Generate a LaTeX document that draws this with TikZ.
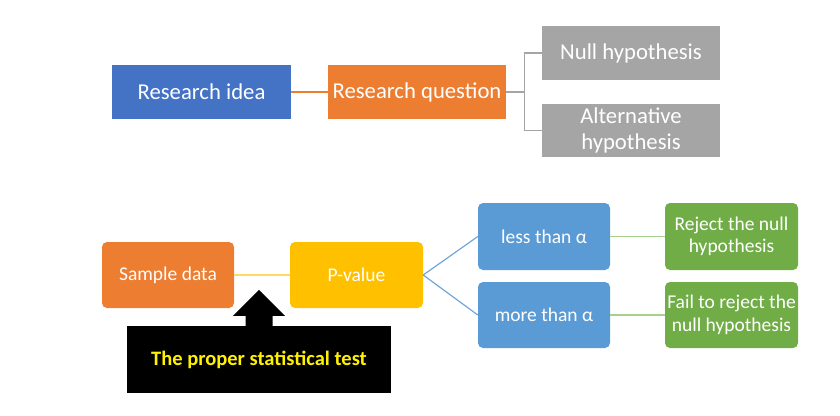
\documentclass[tikz,border=0pt]{standalone}
\usepackage{fontspec}
\setmainfont{Carlito}
\usetikzlibrary{calc}
\definecolor{cblue}{HTML}{4472C4}
\definecolor{corange}{HTML}{ED7D31}
\definecolor{cgray}{HTML}{A5A5A5}
\definecolor{cyellow}{HTML}{FFC000}
\definecolor{cyellowl}{HTML}{FFD966}
\definecolor{clblue}{HTML}{5B9BD5}
\definecolor{clbluel}{HTML}{6FA6DA}
\definecolor{cgreen}{HTML}{70AD47}
\definecolor{cgreenl}{HTML}{A9D18E}
\begin{document}
\begin{tikzpicture}[x=1pt,y=-1pt,
  topbox/.style={draw=none, text=white, align=center, inner sep=0pt,
    font=\fontsize{22.7}{25.5}\selectfont, minimum width=178pt, minimum height=54pt},
  botbox/.style={draw=none, text=white, align=center, inner sep=0pt, rounded corners=5pt,
    font=\fontsize{19.5}{22.5}\selectfont, minimum width=132pt, minimum height=66pt},
  conn/.style={line width=1.2pt}]
\useasboundingbox (0,0) rectangle (840,415);
% top
\node[topbox, fill=cblue, minimum width=179pt] (ri) at (201.5,92) {Research idea};
\node[topbox, fill=corange] (rq) at (417,92) {Research question};
\node[topbox, fill=cgray] (nh) at (631,53) {Null hypothesis};
\node[topbox, fill=cgray, minimum height=53pt] (ah) at (631,130.5) {Alternative\\hypothesis};
\coordinate (br) at ($(rq.east)+(18,0)$);
\draw[conn, corange] (ri.east) -- (rq.west);
\draw[conn, cgray] (rq.east) -- (br);
\draw[conn, cgray] (nh.west) -| (br) |- (ah.west);
% bottom
\node[botbox, fill=corange] (sd) at (168,275) {Sample data};
\node[botbox, fill=cyellow, minimum width=133pt] (pv) at (356.5,275) {P-value};
\node[botbox, fill=clblue, minimum height=67pt] (lt) at (544,236.5) {less than α};
\node[botbox, fill=clblue] (mt) at (544,315) {more than α};
\node[botbox, fill=cgreen, minimum width=133pt, minimum height=67pt] (rj) at (731.5,236.5) {Reject the null\\hypothesis};
\node[botbox, fill=cgreen, minimum width=133pt] (fr) at (731.5,315) {Fail to reject the\\null hypothesis};
\draw[conn, cyellowl] (sd.east) -- (pv.west);
\draw[conn, clbluel] (pv.east) -- (lt.west);
\draw[conn, clbluel] (pv.east) -- (mt.west);
\draw[conn, cgreenl] (lt.east) -- (rj.west);
\draw[conn, cgreenl] (mt.east) -- (fr.west);
% black box and arrow
\node[fill=black, text=yellow, inner sep=0pt, minimum width=264pt, minimum height=67pt,
  font=\fontsize{20.5}{24}\selectfont\bfseries] (pt) at (259,359.5) {The proper statistical test};
\fill[black] ($(pt.north)+(-13.5,0.5)$) -- ($(pt.north)+(-13.5,-10)$) -- ($(pt.north)+(-26,-10)$)
  -- ($(pt.north)+(0,-36)$) -- ($(pt.north)+(26,-10)$) -- ($(pt.north)+(13.5,-10)$)
  -- ($(pt.north)+(13.5,0.5)$) -- cycle;
\end{tikzpicture}
\end{document}
